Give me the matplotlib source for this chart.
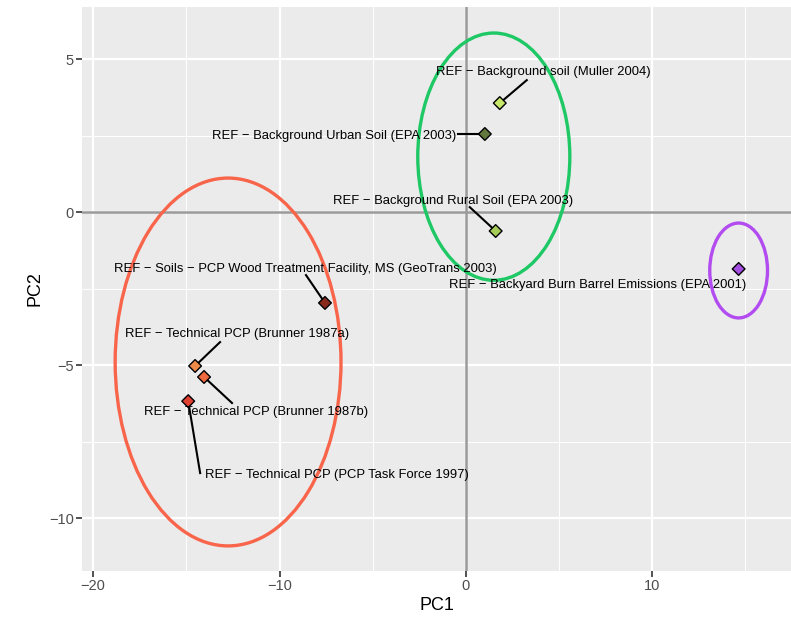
import matplotlib
matplotlib.use("Agg")
import matplotlib.pyplot as plt
from matplotlib.patches import Ellipse
from matplotlib.ticker import MultipleLocator

plt.rcParams['font.family'] = ['Liberation Sans', 'DejaVu Sans']

# ---- data ----
labels = [
    "REF \u2212 Background soil (Muller 2004)",
    "REF \u2212 Background Urban Soil (EPA 2003)",
    "REF \u2212 Background Rural Soil (EPA 2003)",
    "REF \u2212 Backyard Burn Barrel Emissions (EPA 2001)",
    "REF \u2212 Soils \u2212 PCP Wood Treatment Facility, MS (GeoTrans 2003)",
    "REF \u2212 Technical PCP (Brunner 1987a)",
    "REF \u2212 Technical PCP (Brunner 1987b)",
    "REF \u2212 Technical PCP (PCP Task Force 1997)",
]
pc1 = [1.82, 1.02, 1.60, 14.64, -7.56, -14.53, -14.05, -14.90]
pc2 = [3.56, 2.55, -0.62, -1.86, -2.97, -5.03, -5.39, -6.18]
point_colors = ["#c8e86a", "#62783e", "#a6cc58", "#a34ee0", "#8a2a1c",
                "#f08a48", "#ef6a40", "#e04030"]

# label text positions (data coords) and leader line start points
label_x = [4.16, -7.05, -0.70, 7.05, -8.63, -12.30, -11.26, -6.94]
label_y = [4.56, 2.50, 0.37, -2.37, -1.85, -4.00, -6.52, -8.58]
leader_x = [3.27, -0.43, 0.21, None, -8.58, -13.19, -12.55, -14.26]
leader_y = [4.31, 2.55, 0.16, None, -2.06, -4.25, -6.24, -8.53]

# group ellipses: center x, center y, half-width, half-height, colour
ell_cx = [1.50, -12.76, 14.64]
ell_cy = [1.81, -4.90, -1.91]
ell_rx = [4.08, 6.06, 1.55]
ell_ry = [4.04, 6.01, 1.55]
ell_colors = ["#1ec864", "#f8654a", "#b24cf0"]

# ---- figure ----
fig = plt.figure(figsize=(7.91, 6.22), dpi=100)
ax = fig.add_axes([82/791, 51/622, 1 - 82/791, (571-7)/622])
ax.set_facecolor("#ebebeb")
ax.set_xlim(-20.6, 17.45)
ax.set_ylim(-11.73, 6.7)

ax.xaxis.set_major_locator(MultipleLocator(10))
ax.xaxis.set_minor_locator(MultipleLocator(5))
ax.yaxis.set_major_locator(MultipleLocator(5))
ax.yaxis.set_minor_locator(MultipleLocator(2.5))
ax.grid(which="major", color="white", lw=1.6, zorder=0)
ax.grid(which="minor", color="white", lw=0.7, zorder=0)
ax.set_axisbelow(True)
for s in ax.spines.values():
    s.set_visible(False)
ax.tick_params(which="major", length=4, width=1.2, color="#333333",
               labelcolor="#4d4d4d", labelsize=10.5, pad=2)
ax.tick_params(which="minor", length=0)

ax.axvline(0, color="#9a9a9a", lw=1.8, zorder=1)
ax.axhline(0, color="#9a9a9a", lw=1.8, zorder=1)

for cx, cy, rx, ry, c in zip(ell_cx, ell_cy, ell_rx, ell_ry, ell_colors):
    ax.add_patch(Ellipse((cx, cy), 2*rx, 2*ry, fill=False, ec=c, lw=2.4, zorder=2))

for lx, ly, sx, sy, px, py in zip(label_x, label_y, leader_x, leader_y, pc1, pc2):
    if sx is not None:
        ax.plot([sx, px], [sy, py], color="black", lw=1.5, zorder=3)

ax.scatter(pc1, pc2, marker="D", s=42, c=point_colors, edgecolors="black",
           linewidths=1.0, zorder=4)

for t, lx, ly in zip(labels, label_x, label_y):
    ax.text(lx, ly, t, ha="center", va="center", fontsize=9.4, color="black",
            zorder=5)

ax.set_xlabel("PC1", fontsize=13, labelpad=3)
ax.set_ylabel("PC2", fontsize=13, labelpad=4)

fig.savefig("out.png", dpi=100)
